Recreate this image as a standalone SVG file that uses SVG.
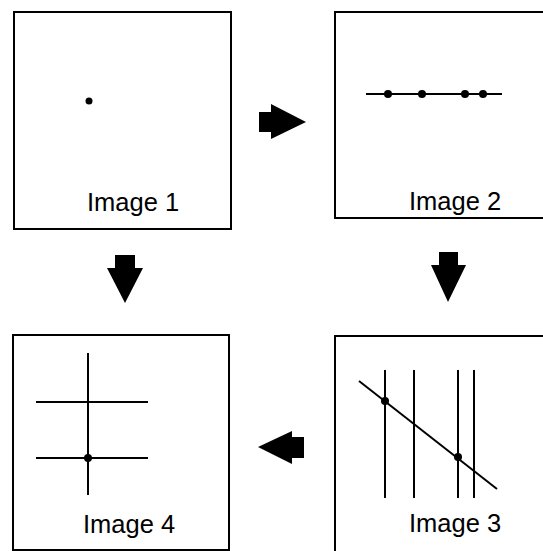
<svg xmlns="http://www.w3.org/2000/svg" width="543" height="551" viewBox="0 0 543 551">
<style>
.box{fill:#fff;stroke:#000;stroke-width:2}
.ln{stroke:#000;stroke-width:2;fill:none}
.dot{fill:#000}
.lbl{font-family:"Liberation Sans",Arial,sans-serif;font-size:25.5px;fill:#000}
.arr{fill:#000}
</style>
<rect width="543" height="551" fill="#fff"/>
<g id="image1">
<rect class="box" x="14" y="12" width="217" height="217"/>
<circle class="dot" cx="89" cy="101" r="3.5"/>
<text class="lbl" x="87" y="211">Image 1</text>
</g>
<g id="image2">
<rect class="box" x="335" y="12" width="215" height="206"/>
<line class="ln" x1="366" y1="94" x2="502" y2="94"/>
<circle class="dot" cx="388" cy="94" r="4"/>
<circle class="dot" cx="422" cy="94" r="4"/>
<circle class="dot" cx="465" cy="94" r="4"/>
<circle class="dot" cx="483" cy="94" r="4"/>
<text class="lbl" x="409" y="210">Image 2</text>
</g>
<g id="image3">
<rect class="box" x="335" y="336" width="215" height="225"/>
<line class="ln" x1="385" y1="370" x2="385" y2="498"/>
<line class="ln" x1="414" y1="370" x2="414" y2="498"/>
<line class="ln" x1="458" y1="370" x2="458" y2="498"/>
<line class="ln" x1="474" y1="370" x2="474" y2="498"/>
<line class="ln" x1="359" y1="381" x2="497" y2="489"/>
<circle class="dot" cx="385" cy="401" r="4"/>
<circle class="dot" cx="458" cy="457" r="4"/>
<text class="lbl" x="409" y="532">Image 3</text>
</g>
<g id="image4">
<rect class="box" x="13" y="335" width="216" height="215"/>
<line class="ln" x1="88" y1="353" x2="88" y2="495"/>
<line class="ln" x1="36" y1="402" x2="148" y2="402"/>
<line class="ln" x1="36" y1="458" x2="148" y2="458"/>
<circle class="dot" cx="88" cy="458" r="4"/>
<text class="lbl" x="83" y="533">Image 4</text>
</g>
<g id="connectors">
<polygon class="arr" points="259,112 271,112 271,104 306,122 271,139 271,132 259,132"/>
<polygon class="arr" points="115,255 135,255 135,268 143,268 125,303 107,268 115,268"/>
<polygon class="arr" points="439,252 458,252 458,265 466,265 448,302 431,265 439,265"/>
<polygon class="arr" points="304,437 304,458 292,458 292,464 258,447 292,431 292,437"/>
</g>
</svg>
